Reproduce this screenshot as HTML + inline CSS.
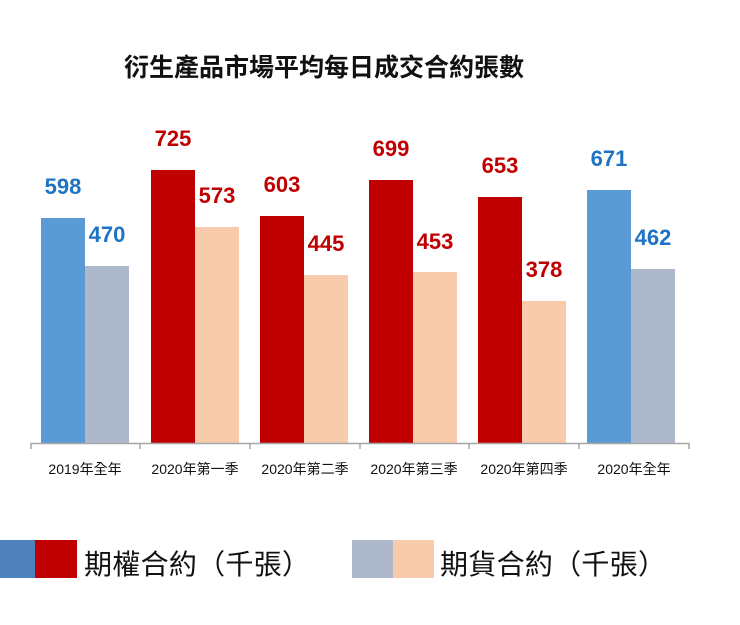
<!DOCTYPE html>
<html><head><meta charset="utf-8"><style>
body{margin:0;background:#fff;width:740px;height:620px;overflow:hidden}
</style></head><body>
<svg width="740" height="620" xmlns="http://www.w3.org/2000/svg" font-family="Liberation Sans, Noto Sans CJK TC, sans-serif">
<text x="324" y="76" font-size="25" font-weight="bold" text-anchor="middle" fill="#111">衍生產品市場平均每日成交合約張數</text>
<g>
<rect x="41" y="218" width="44" height="225" fill="#5b9bd5"/>
<rect x="85" y="266" width="44" height="177" fill="#adb9ca"/>
<rect x="151" y="170" width="44" height="273" fill="#c00000"/>
<rect x="195" y="227" width="44" height="216" fill="#f8cbad"/>
<rect x="260" y="216" width="44" height="227" fill="#c00000"/>
<rect x="304" y="275" width="44" height="168" fill="#f8cbad"/>
<rect x="369" y="180" width="44" height="263" fill="#c00000"/>
<rect x="413" y="272" width="44" height="171" fill="#f8cbad"/>
<rect x="478" y="197" width="44" height="246" fill="#c00000"/>
<rect x="522" y="301" width="44" height="142" fill="#f8cbad"/>
<rect x="587" y="190" width="44" height="253" fill="#5b9bd5"/>
<rect x="631" y="269" width="44" height="174" fill="#adb9ca"/>
</g>
<g stroke="#a6a6a6" stroke-width="1.5">
<line x1="31" y1="443.5" x2="689" y2="443.5"/>
<line x1="31" y1="443" x2="31" y2="449"/><line x1="140" y1="443" x2="140" y2="449"/>
<line x1="250" y1="443" x2="250" y2="449"/><line x1="360" y1="443" x2="360" y2="449"/>
<line x1="469" y1="443" x2="469" y2="449"/><line x1="579" y1="443" x2="579" y2="449"/>
<line x1="689" y1="443" x2="689" y2="449"/>
</g>
<g font-size="22" font-weight="bold" text-anchor="middle">
<text x="63" y="194" fill="#1f73c4">598</text>
<text x="107" y="242" fill="#1f73c4">470</text>
<text x="173" y="146" fill="#c00000">725</text>
<text x="217" y="203" fill="#c00000">573</text>
<text x="282" y="192" fill="#c00000">603</text>
<text x="326" y="251" fill="#c00000">445</text>
<text x="391" y="156" fill="#c00000">699</text>
<text x="435" y="249" fill="#c00000">453</text>
<text x="500" y="173" fill="#c00000">653</text>
<text x="544" y="277" fill="#c00000">378</text>
<text x="609" y="166" fill="#1f73c4">671</text>
<text x="653" y="245" fill="#1f73c4">462</text>
</g>
<g font-size="14" text-anchor="middle" fill="#111">
<text x="85" y="474">2019年全年</text>
<text x="195" y="474">2020年第一季</text>
<text x="305" y="474">2020年第二季</text>
<text x="414" y="474">2020年第三季</text>
<text x="524" y="474">2020年第四季</text>
<text x="634" y="474">2020年全年</text>
</g>
<rect x="0" y="540" width="35" height="38" fill="#4f81bd"/>
<rect x="35" y="540" width="42" height="38" fill="#c00000"/>
<text x="84" y="574" font-size="28" fill="#111" textLength="226" lengthAdjust="spacing">期權合約（千張）</text>
<rect x="352" y="540" width="41" height="38" fill="#adb9ca"/>
<rect x="393" y="540" width="41" height="38" fill="#f8cbad"/>
<text x="440" y="574" font-size="28" fill="#111" textLength="226" lengthAdjust="spacing">期貨合約（千張）</text>
</svg>
</body></html>
